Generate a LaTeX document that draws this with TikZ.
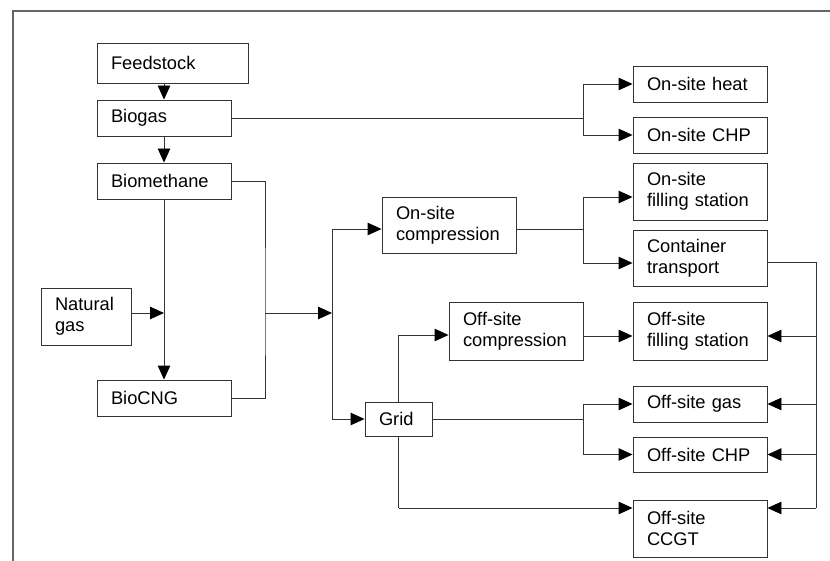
\documentclass[tikz,border=0pt]{standalone}
\usepackage{fontspec}
\setmainfont{Liberation Sans}
\usetikzlibrary{arrows.meta}
\definecolor{ln}{HTML}{333333}
\begin{document}
\begin{tikzpicture}[x=1pt,y=-1pt,
  box/.style={draw=ln, line width=0.9pt, align=left, inner xsep=14pt, inner ysep=0pt,
    anchor=center, font=\fontsize{18.3}{21}\selectfont, text=black},
  wA/.style={minimum width=134pt, text width=106pt},
  conn/.style={draw=ln, line width=0.9pt},
  arr/.style={conn, -{Triangle[length=14pt,width=12.5pt,color=black]}}]
\useasboundingbox (0,0) rectangle (830,561);
\draw[draw=gray!80!black, line width=1.2pt] (830,11) -- (13,11) -- (13,561);

% nodes
\node[box, minimum width=151pt, text width=123pt, minimum height=40pt] (feed) at (172.5,63) {Feedstock};
\node[box, wA, minimum height=36pt] (biogas) at (164,118) {Biogas};
\node[box, wA, minimum height=36pt] (biometh) at (164,181) {Biomethane};
\node[box, minimum width=90pt, text width=62pt, minimum height=57pt] (natgas) at (86,316.5) {Natural\\gas};
\node[box, wA, minimum height=36pt] (biocng) at (164,398) {BioCNG};
\node[box, wA, minimum height=56pt] (onsitecomp) at (449,225) {On-site\\compression};
\node[box, wA, minimum height=58pt] (offsitecomp) at (516,331) {Off-site\\compression};
\node[box, minimum width=67pt, text width=39pt, minimum height=34pt] (grid) at (398.5,419) {Grid};
\node[box, wA, minimum height=36pt] (heat) at (700,84) {On-site heat};
\node[box, wA, minimum height=36pt] (chp) at (700,135) {On-site CHP};
\node[box, wA, minimum height=57pt] (fill) at (700,191.5) {On-site\\filling station};
\node[box, wA, minimum height=56pt] (cont) at (700,258) {Container\\transport};
\node[box, wA, minimum height=58pt] (offfill) at (700,331) {Off-site\\filling station};
\node[box, wA, minimum height=36pt] (offgas) at (700,404) {Off-site gas};
\node[box, wA, minimum height=35pt] (offchp) at (700,454.5) {Off-site CHP};
\node[box, wA, minimum height=57pt] (ccgt) at (700,528.5) {Off-site\\CCGT};

% junctions
\coordinate (jb) at (583,118);
\coordinate (jn) at (164,313);
\coordinate (jm) at (265,313);
\coordinate (jl) at (332,313);
\coordinate (jo) at (583,229);
\coordinate (jg) at (583,404);
\coordinate (jgt) at (398.5,335);
\coordinate (jgb) at (398.5,508);
\coordinate (jr) at (816,262);

% left column
\draw[arr] (biogas.north |- feed.south) -- (biogas.north);
\draw[arr] (biogas.south) -- (biometh.north);
\draw[arr] (biometh.south) -- (biocng.north);
\draw[arr] (natgas.east |- jn) -- (jn);
\draw[conn] (biometh.east) -| (jm) |- (biocng.east);
\draw[arr] (jm) -- (jl);
\draw[arr] (jl) |- ([yshift=-4pt]onsitecomp.west);
\draw[arr] (jl) |- (grid.west);

% biogas to on-site uses
\draw[conn] (biogas.east) -- (jb);
\draw[arr] (jb) |- (heat.west);
\draw[arr] (jb) |- (chp.west);

% on-site compression
\draw[conn] ([yshift=-4pt]onsitecomp.east) -- (jo);
\draw[arr] (jo) |- ([yshift=-5.5pt]fill.west);
\draw[arr] (jo) |- ([yshift=-5pt]cont.west);

% grid
\draw[conn] (grid.north) -- (jgt);
\draw[arr] (jgt) -- ([yshift=-4pt]offsitecomp.west);
\draw[arr] ([yshift=-5pt]offsitecomp.east) -- ([yshift=-5pt]offfill.west);
\draw[conn] (grid.east) -| (jg);
\draw[arr] (jg) |- (offgas.west);
\draw[arr] (jg) |- (offchp.west);
\draw[conn] (grid.south) -- (jgb);
\draw[arr] (jgb) -- ([yshift=20.5pt]ccgt.west);

% container transport return
\draw[conn] ([yshift=-4pt]cont.east) -- (jr);
\draw[conn] (jr) -- (jr |- jgb);
\draw[arr] (jr |- offfill.east) ++(0,5) -- ([yshift=-5pt]offfill.east);
\draw[arr] (jr |- offgas.east) -- (offgas.east);
\draw[arr] (jr |- offchp.east) -- (offchp.east);
\draw[arr] (jr |- jgb) -- ([yshift=20.5pt]ccgt.east);
\end{tikzpicture}
\end{document}
